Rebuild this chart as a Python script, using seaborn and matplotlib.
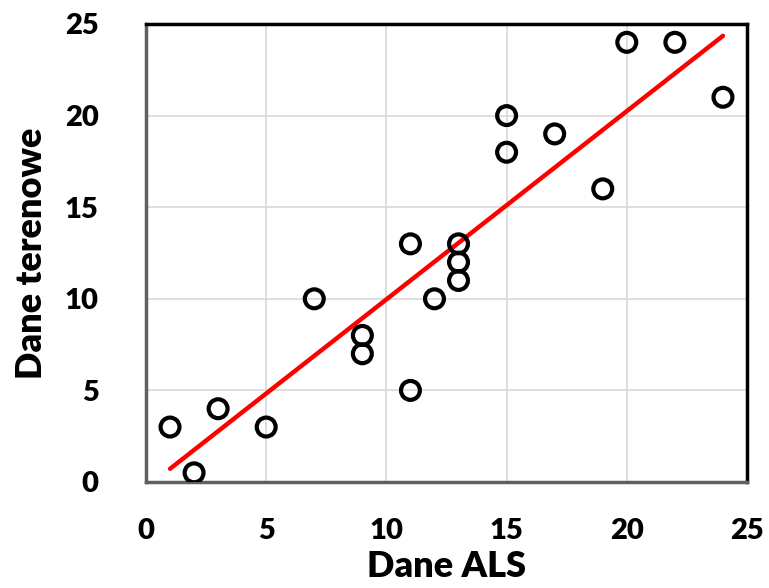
import matplotlib
matplotlib.use("Agg")
import matplotlib.pyplot as plt
import seaborn as sns
import pandas as pd

# values
dane_als = [1, 2, 3, 5, 7, 9, 9, 11, 11, 12, 13, 13, 13, 15, 15, 17, 19, 20, 22, 24]
dane_terenowe = [3, 0.5, 4, 3, 10, 8, 7, 13, 5, 10, 13, 12, 11, 20, 18, 19, 16, 24, 24, 21]
ticks = [0, 5, 10, 15, 20, 25]

df = pd.DataFrame({"als": dane_als, "teren": dane_terenowe})

sns.set_theme(style="white")
plt.rcParams['font.family'] = ['Lato', 'DejaVu Sans']
plt.rcParams['text.color'] = 'black'
plt.rcParams['axes.labelcolor'] = 'black'
plt.rcParams['xtick.color'] = 'black'
plt.rcParams['ytick.color'] = 'black'

fig = plt.figure(figsize=(7.69, 5.88), dpi=100)
# plot frame: x 146..747, y 24..482 px
ax = fig.add_axes([146 / 769, 106 / 588, 601 / 769, 458 / 588])

# regression line
sns.regplot(data=df, x="als", y="teren", ci=None, scatter=False, truncate=True,
            line_kws={"color": "#ff0000", "lw": 3.2, "zorder": 2}, ax=ax)
# open circle markers
sns.scatterplot(data=df, x="als", y="teren", ax=ax, s=185, marker="o",
                facecolor="none", edgecolor="black", linewidth=3, zorder=3)

ax.set_xlim(0, 25)
ax.set_ylim(0, 25)
ax.set_xticks(ticks)
ax.set_yticks(ticks)
ax.grid(True, color="#d9d9d9", lw=1.2, zorder=0)
ax.set_axisbelow(True)
for side in ["top", "right"]:
    ax.spines[side].set_color("black")
    ax.spines[side].set_linewidth(2.5)
for side in ["left", "bottom"]:
    ax.spines[side].set_color("#606060")
    ax.spines[side].set_linewidth(2.5)

ax.tick_params(axis="both", length=0, labelsize=21)
ax.tick_params(axis="x", pad=26)
ax.tick_params(axis="y", pad=34)
for lab in ax.get_xticklabels() + ax.get_yticklabels():
    lab.set_fontweight("heavy")

ax.set_xlabel("Dane ALS", fontsize=26, fontweight="heavy", labelpad=4)
ax.set_ylabel("Dane terenowe", fontsize=26, fontweight="heavy", labelpad=12)

fig.savefig("out.png", dpi=100)
